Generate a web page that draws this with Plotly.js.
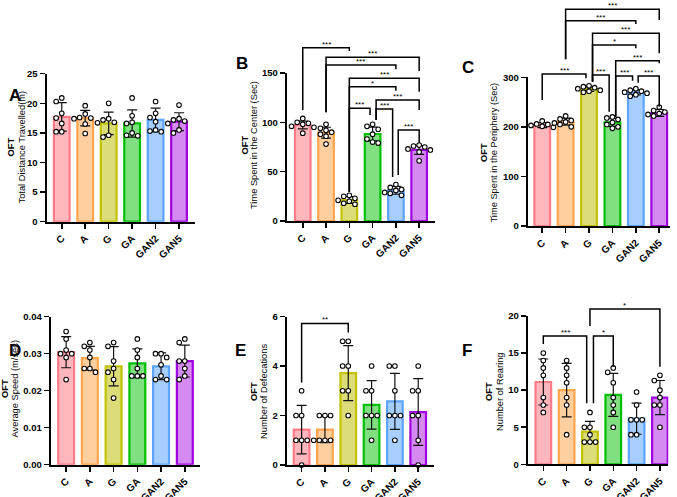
<!DOCTYPE html>
<html><head><meta charset="utf-8">
<script src="https://cdn.plot.ly/plotly-3.0.1.min.js"></script>
<style>html,body{margin:0;padding:0;background:#fff}</style>
</head><body><div id="chart" style="width:677px;height:497px"></div>
<script>
const categories = ['C', 'A', 'G', 'GA', 'GAN2', 'GAN5'];

// A: Total distance travelled (m)
const distMeans = [17.7, 17.5, 16.6, 16.6, 17.2, 16.9];
const distSD = [2.4, 1.3, 1.9, 2.3, 2.0, 1.5];
const distPoints = [
  [20.9, 20.3, 18.3, 17.5, 16.6, 15.2, 15.2],
  [19.6, 18.2, 17.6, 17.5, 17.4, 16.5, 14.9],
  [20.0, 17.4, 17.2, 16.8, 16.7, 14.6, 14.3],
  [20.9, 17.9, 16.8, 16.6, 15.0, 14.6, 14.5],
  [20.3, 18.3, 17.6, 16.9, 15.5, 15.3, 15.2],
  [19.7, 17.4, 17.2, 17.0, 16.6, 15.5, 15.0]
];

// B: Time spent in the center (sec)
const centerMeans = [97.3, 89.5, 21.3, 88.2, 31.1, 72.0];
const centerSD = [4.0, 5.5, 3.4, 7.0, 4.0, 4.5];
const centerPoints = [
  [104, 100, 99, 98, 96, 95, 89],
  [98, 94, 92, 90, 88, 86, 78],
  [26, 25, 23, 21, 20, 18, 17],
  [98, 96, 93, 88, 83, 80, 79],
  [37, 34, 32, 31, 29, 28, 26],
  [77, 76, 75, 73, 72, 70, 61]
];

// C: Time spent in the periphery (sec)
const periMeans = [203.5, 210.5, 276, 209, 269.5, 228];
const periSD = [5, 7, 4.5, 8, 5, 7];
const periPoints = [
  [212, 206, 205, 203, 201, 199, 196],
  [222, 216, 213, 210, 208, 205, 200],
  [283, 281, 279, 277, 274, 272, 270],
  [220, 218, 215, 209, 205, 200, 197],
  [277, 274, 272, 270, 268, 265, 262],
  [240, 233, 230, 227, 225, 222, 220]
];

// D: Average speed (m/sec)
const speedMeans = [0.0304, 0.0288, 0.0266, 0.0274, 0.0266, 0.0280];
const speedSD = [0.0042, 0.0032, 0.0053, 0.0039, 0.0036, 0.0043];
const speedPoints = [
  [0.036, 0.034, 0.031, 0.030, 0.030, 0.029, 0.023],
  [0.033, 0.032, 0.031, 0.029, 0.026, 0.026, 0.025],
  [0.033, 0.032, 0.028, 0.026, 0.025, 0.023, 0.018],
  [0.034, 0.031, 0.029, 0.026, 0.024, 0.024, 0.024],
  [0.030, 0.030, 0.029, 0.027, 0.024, 0.023, 0.023],
  [0.034, 0.033, 0.028, 0.028, 0.026, 0.024, 0.023]
];

// E: Number of defecations
const defecMeans = [1.43, 1.43, 3.71, 2.43, 2.57, 2.14];
const defecSD = [0.98, 0.53, 1.11, 0.98, 1.13, 1.35];
const defecPoints = [
  [3, 2, 2, 1, 1, 1, 0],
  [2, 2, 2, 1, 1, 1, 1],
  [5, 5, 4, 4, 3, 3, 2],
  [4, 3, 3, 2, 2, 2, 1],
  [4, 4, 3, 2, 2, 2, 1],
  [4, 3, 3, 2, 2, 1, 0]
];

// F: Number of rearing
const rearMeans = [11.1, 10.0, 4.4, 9.35, 6.15, 9.0];
const rearSD = [3.1, 3.6, 1.4, 2.9, 2.1, 2.3];
const rearPoints = [
  [15, 14, 13, 12, 9, 8, 7],
  [14, 13, 12, 11, 9, 8, 4],
  [7, 5, 5, 4, 3, 3, 3],
  [13, 12.4, 11, 9, 8, 7, 5],
  [9.75, 8, 6, 6, 6, 4, 4],
  [12, 11.3, 10, 9, 8, 8, 5]
];

// Significance brackets (heights in data units)
const centerBrackets = [
  {a:'C', b:'G', top:175.6, la:112.5, lb:172.3, s:'***'},
  {a:'A', b:'GAN5', top:165.9, la:110.2, lb:152, s:'***'},
  {a:'A', b:'GAN2', top:158.1, la:110.2, lb:153.8, s:'***'},
  {a:'G', b:'GAN5', top:144.6, la:29.7, lb:131, s:'***'},
  {a:'G', b:'GAN2', top:136.1, la:29.7, lb:132.1, s:'*'},
  {a:'GA', b:'GAN5', top:122.6, la:102.4, lb:112.5, da:0.15, s:'***'},
  {a:'G', b:'GA', top:114.2, la:29.7, lb:107.4, db:-0.11, s:'***'},
  {a:'GA', b:'GAN2', top:113.5, la:102.4, lb:44.6, da:0.15, db:-0.14, s:'***'},
  {a:'GAN2', b:'GAN5', top:92.2, la:46.6, lb:79, da:0.1, s:'***'}
];
const periBrackets = [
  {a:'C', b:'G', top:306.6, la:254.2, lb:298, db:-0.13, s:'***'},
  {a:'A', b:'GAN5', top:437.2, la:336.3, lb:415.6, s:'***'},
  {a:'A', b:'GAN2', top:414.2, la:336.3, lb:407.5, s:'***'},
  {a:'G', b:'GAN5', top:388.7, la:291.1, lb:348.4, da:0.15, s:'***'},
  {a:'G', b:'GAN2', top:365.1, la:291.1, lb:358.5, da:0.15, s:'*'},
  {a:'GA', b:'GAN5', top:333.5, la:220.5, lb:328.2, da:0.14, s:'***'},
  {a:'G', b:'GA', top:304.6, la:291.1, lb:230.6, da:0.15, db:-0.14, s:'***'},
  {a:'GA', b:'GAN2', top:302.6, la:220.5, lb:293.1, da:0.14, db:-0.14, s:'***'},
  {a:'GAN2', b:'GAN5', top:302.6, la:289.1, lb:240.7, da:0.1, s:'***'}
];
const defecBrackets = [
  {a:'C', b:'G', top:5.72, la:3.33, lb:5.35, s:'**'}
];
const rearBrackets = [
  {a:'C', b:'G', top:17.29, la:16.21, lb:8.22, db:-0.14, s:'***'},
  {a:'G', b:'GA', top:17.29, la:8.22, lb:13.15, da:0.15, s:'*'},
  {a:'G', b:'GAN5', top:20.93, la:18.64, lb:13.15, s:'*'}
];

const fills = ['#FFB6BC', '#FFCF9F', '#DCDC78', '#80DF80', '#A6CFFF', '#D48AF0'];
const borders = ['#FF7C88', '#FFA54D', '#C2C200', '#00C000', '#5CA4FF', '#A000E0'];

const W = 677, H = 497;
const FONT = 'Arial, "Liberation Sans", sans-serif';

// layout of the six panels in pixels: box = [left, top, right, bottom]
const panels = [
  {means:distMeans, sd:distSD, pts:distPoints, ytitle:'Total Distance Travelled(m)', range:[0,25], dtick:5, fmt:'',
   box:[46.5,73.7,195,221.7], xr:[-0.65,5.68], letter:'A', lpos:[14.5,95], t1:10, t2:21, tc:147.5, br:[]},
  {means:centerMeans, sd:centerSD, pts:centerPoints, ytitle:'Time Spent in the Center (Sec)', range:[0,150], dtick:50, fmt:'',
   box:[286.7,73,435,221], xr:[-0.69,5.68], letter:'B', lpos:[241.5,64], t1:244.5, t2:254, tc:145, br:centerBrackets},
  {means:periMeans, sd:periSD, pts:periPoints, ytitle:'Time Spent in the Periphery (Sec)', range:[0,300], dtick:100, fmt:'',
   box:[527.7,77.3,670,226], xr:[-0.62,5.46], letter:'C', lpos:[467.5,67], t1:484, t2:493.5, tc:153, br:periBrackets},
  {means:speedMeans, sd:speedSD, pts:speedPoints, ytitle:'Average Speed (m/sec)', range:[0,0.04], dtick:0.01, fmt:'.2f',
   box:[50.7,316.7,200,464.7], xr:[-0.65,5.64], letter:'D', lpos:[14.5,350], t1:5, t2:14.5, tc:389, br:[]},
  {means:defecMeans, sd:defecSD, pts:defecPoints, ytitle:'Number of Defecations', range:[0,6], dtick:2, fmt:'',
   box:[286.7,316.5,434.3,465], xr:[-0.64,5.69], letter:'E', lpos:[241,350], t1:253.5, t2:263.5, tc:391.5, br:defecBrackets},
  {means:rearMeans, sd:rearSD, pts:rearPoints, ytitle:'Number of Rearing', range:[0,20], dtick:5, fmt:'',
   box:[527.7,316,668.3,464.3], xr:[-0.67,5.36], letter:'F', lpos:[467,350], t1:489, t2:500, tc:392, br:rearBrackets}
];

function swarm(vals, pxX, pxY) {
  const placed = [], out = [];
  const step = 5.6, minD = 5.4;
  const cands = [0, -1, 1, -2, 2, -3, 3, -4, 4];
  vals.forEach(v => {
    const yp = v * pxY;
    let chosen = 0;
    for (const c of cands) {
      const xp = c * step;
      if (placed.every(p => Math.hypot(p.x - xp, p.y - yp) >= minD)) { chosen = xp; break; }
    }
    placed.push({x: chosen, y: yp});
    out.push(chosen / pxX);
  });
  return out;
}

const traces = [];
const layout = {
  width: W, height: H, margin: {l:0, r:0, t:0, b:0},
  paper_bgcolor: '#fff', plot_bgcolor: 'rgba(0,0,0,0)',
  showlegend: false, shapes: [], annotations: [],
  font: {family: FONT, color: '#000'}
};

panels.forEach((p, i) => {
  const n = i === 0 ? '' : String(i + 1);
  const xa = 'x' + n, ya = 'y' + n;
  const [L, T, R, B] = p.box;
  const yd = [1 - B / H, 1 - T / H];
  const pxX = (R - L) / (p.xr[1] - p.xr[0]);
  const pxY = (B - T) / (p.range[1] - p.range[0]);
  const idx = categories.map((c, k) => k);

  traces.push({
    type: 'bar', x: idx, y: p.means, width: 0.67, xaxis: xa, yaxis: ya,
    marker: {color: fills, line: {color: borders, width: 2.2}},
    error_y: {type: 'data', array: p.sd, visible: true, color: '#111', thickness: 1.2, width: 5},
    hoverinfo: 'skip'
  });
  const xs = [], ys = [];
  p.pts.forEach((grp, k) => {
    const off = swarm(grp, pxX, pxY);
    grp.forEach((v, j) => { xs.push(k + off[j]); ys.push(v); });
  });
  traces.push({
    type: 'scatter', mode: 'markers', x: xs, y: ys, xaxis: xa, yaxis: ya, cliponaxis: false,
    marker: {size: 4.6, color: '#fff', line: {color: '#000', width: 1.1}}, hoverinfo: 'skip'
  });

  layout['xaxis' + n] = {
    domain: [L / W, R / W], range: p.xr, anchor: ya,
    tickmode: 'array', tickvals: idx, ticktext: categories, tickangle: -45,
    showline: true, linecolor: '#000', linewidth: 2, ticks: 'outside', ticklen: 5, tickwidth: 1.5, tickcolor: '#000',
    showgrid: false, zeroline: false, tickfont: {family: FONT, size: 10, color: '#000', weight: 'bold'}, fixedrange: true
  };
  layout['yaxis' + n] = {
    domain: yd, range: p.range, anchor: xa, tick0: 0, dtick: p.dtick, tickformat: p.fmt,
    showline: true, linecolor: '#000', linewidth: 2, ticks: 'outside', ticklen: 5, tickwidth: 1.5, tickcolor: '#000',
    showgrid: false, zeroline: false, tickfont: {family: FONT, size: 9.5, color: '#000', weight: 'bold'}, fixedrange: true
  };

  const toPaper = v => yd[0] + (v - p.range[0]) / (p.range[1] - p.range[0]) * (yd[1] - yd[0]);
  p.br.forEach(b => {
    const x0 = categories.indexOf(b.a) + (b.da || 0);
    const x1 = categories.indexOf(b.b) + (b.db || 0);
    const yt = toPaper(b.top);
    layout.shapes.push({
      type: 'path', xref: xa, yref: 'paper',
      path: `M ${x0},${toPaper(b.la)} L ${x0},${yt} L ${x1},${yt} L ${x1},${toPaper(b.lb)}`,
      line: {color: '#000', width: 1.5}
    });
    layout.annotations.push({
      xref: xa, yref: 'paper', x: (x0 + x1) / 2, y: yt, yanchor: 'bottom', yshift: -3,
      text: b.s, showarrow: false, font: {family: FONT, size: 8, color: '#000'}
    });
  });

  const tcp = 1 - p.tc / H;
  layout.annotations.push({
    xref: 'paper', yref: 'paper', x: p.t1 / W, y: tcp, xanchor: 'center', yanchor: 'middle',
    textangle: -90, showarrow: false, text: '<b>OFT</b>',
    font: {family: FONT, size: 9.3, color: '#000'}
  });
  layout.annotations.push({
    xref: 'paper', yref: 'paper', x: p.t2 / W, y: tcp, xanchor: 'center', yanchor: 'middle',
    textangle: -90, showarrow: false, text: p.ytitle,
    font: {family: FONT, size: 9.3, color: '#000'}
  });
  layout.annotations.push({
    xref: 'paper', yref: 'paper', x: p.lpos[0] / W, y: 1 - p.lpos[1] / H, xanchor: 'center', yanchor: 'middle',
    showarrow: false, text: '<b>' + p.letter + '</b>', font: {family: FONT, size: 17, color: '#000'}
  });
});

Plotly.newPlot('chart', traces, layout, {staticPlot: true});
</script>
</body></html>
